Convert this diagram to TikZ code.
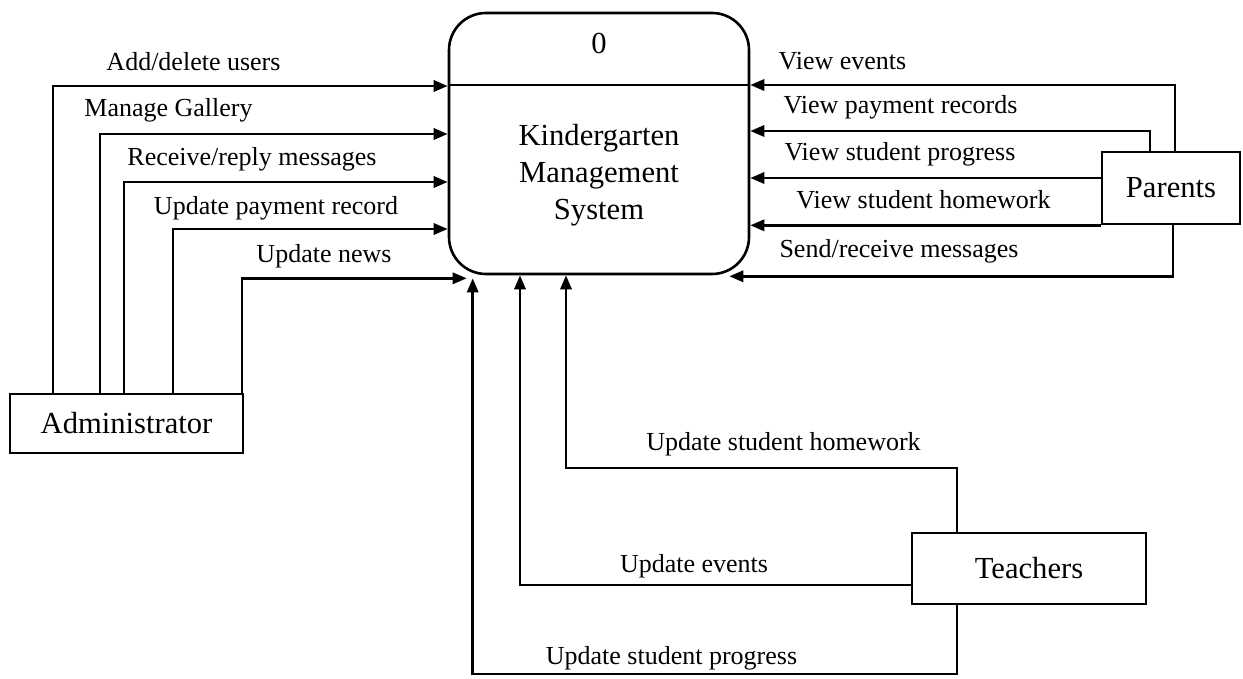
\documentclass[tikz,border=0pt]{standalone}
\usepackage{fontspec}
\setmainfont{Liberation Serif}
\usetikzlibrary{arrows.meta,calc}
\begin{document}
\begin{tikzpicture}[x=0.5pt,y=-0.5pt,
  line width=1.3pt,
  flow/.style={draw,-{Triangle[length=7pt,width=5.6pt]}},
  entity/.style={draw, rectangle, inner sep=0pt, font=\fontsize{15.3}{18}\selectfont},
  lbl/.style={inner sep=0pt, font=\fontsize{13}{15}\selectfont},
  ptext/.style={inner sep=0pt, align=center, font=\fontsize{15.3}{18.5}\selectfont}]
\useasboundingbox (0,0) rectangle (1243,679);

% process 0
\node[draw, rounded corners=18.5pt, minimum width=150pt, minimum height=130.5pt, inner sep=0pt] (proc) at (599,143.5) {};
\node[ptext] (pid) at (599,43) {0};
\node[ptext] (pname) at (599,175) {Kindergarten\\Management\\System};
\draw (proc.west |- 0,85) -- (proc.east |- 0,85);

% external entities
\node[entity, minimum width=116.5pt, minimum height=29.5pt] (adm) at (126.5,423.5) {Administrator};
\node[entity, minimum width=69pt, minimum height=36pt] (par) at (1171,188) {Parents};
\node[entity, minimum width=117pt, minimum height=35.5pt] (tea) at (1029,568.5) {Teachers};

% administrator flows
\draw[flow] (adm.north -| 53,0) |- (proc.west |- 0,86);
\draw[flow] (adm.north -| 100,0) |- (proc.west |- 0,134);
\draw[flow] (adm.north -| 124,0) |- (proc.west |- 0,182);
\draw[flow] (adm.north -| 173,0) |- (proc.west |- 0,229);
\draw[flow] (adm.north -| 242,0) |- ($(proc.south west)+(19,3)$);
\node[lbl] (l1) at (193.5,62) {Add/delete users};
\node[lbl] (l2) at (168.5,110) {Manage Gallery};
\node[lbl] (l3) at (252,159) {Receive/reply messages};
\node[lbl] (l4) at (276,208) {Update payment record};
\node[lbl] (l5) at (324,256) {Update news};

% parent flows
\draw[flow] (par.north -| 1175,0) |- (proc.east |- 0,85);
\draw[flow] (par.north -| 1150,0) |- (proc.east |- 0,131);
\draw[flow] (par.west |- 0,178) -- (proc.east |- 0,178);
\draw[flow] (par.south west) -- (proc.east |- par.south west);
\draw[flow] (par.south -| 1173,0) |- ($(proc.south east)+(-21,1)$);
\node[lbl] (r1) at (842.5,61) {View events};
\node[lbl] (r2) at (900.5,107) {View payment records};
\node[lbl] (r3) at (900,154) {View student progress};
\node[lbl] (r4) at (923.5,200) {View student homework};
\node[lbl] (r5) at (899,251) {Send/receive messages};

% teacher flows
\draw[flow] (tea.north -| 957,0) -- (957,468) -| (proc.south -| 566,0);
\draw[flow] (tea.west |- 0,585) -| (proc.south -| 520,0);
\draw[flow] (tea.south -| 957,0) -- (957,674) -| ($(proc.south west)+(25,3)$);
\node[lbl] (b1) at (783.5,444) {Update student homework};
\node[lbl] (b2) at (694,566) {Update events};
\node[lbl] (b3) at (671.5,658) {Update student progress};
\end{tikzpicture}
\end{document}
